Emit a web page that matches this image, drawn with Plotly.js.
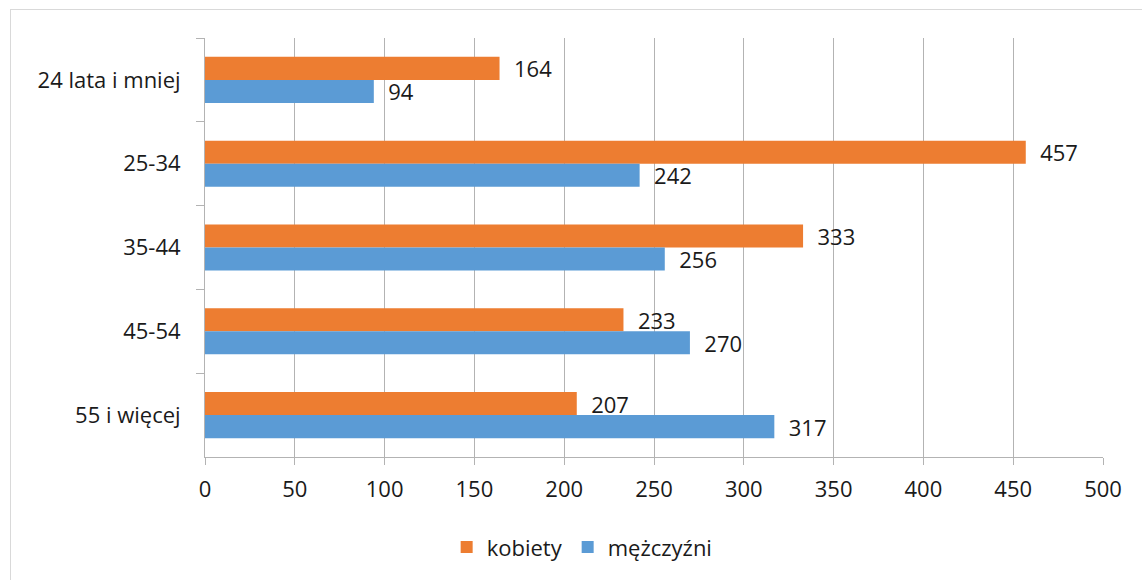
<!DOCTYPE html>
<html><head><meta charset="utf-8">
<script src="https://cdn.plot.ly/plotly-3.0.1.min.js"></script>
<style>html,body{margin:0;padding:0;background:#fff;}#frame{position:absolute;left:10px;top:9px;width:1140px;height:580px;border:1px solid #d9d9d9;box-sizing:border-box;pointer-events:none;}</style>
</head><body>
<div id="chart" style="width:1142px;height:580px;"></div>
<div id="frame"></div>
<script>
const categories = ["24 lata i mniej", "25-34", "35-44", "45-54", "55 i więcej"];
const kobiety = [164, 457, 333, 233, 207];
const mezczyzni = [94, 242, 256, 270, 317];
const seriesNames = ["kobiety", "mężczyźni"];
const xTicks = [0, 50, 100, 150, 200, 250, 300, 350, 400, 450, 500];

const font = {family: "Open Sans, Noto Sans, sans-serif", size: 22, color: "#1a1a1a"};
function bar(vals, name, color) {
  return {
    type: "bar", orientation: "h", name: name, y: categories, x: vals,
    marker: {color: color},
    text: vals.map(v => "\u00a0\u00a0" + v), textposition: "outside",
    textfont: font, constraintext: "none", cliponaxis: false, hoverinfo: "x"
  };
}
const data = [bar(kobiety, seriesNames[0], "#ed7d31"), bar(mezczyzni, seriesNames[1], "#5b9bd5")];
const layout = {
  width: 1142, height: 580,
  margin: {l: 205, r: 39, t: 38, b: 123},
  paper_bgcolor: "#fff", plot_bgcolor: "#fff",
  font: font,
  barmode: "group", bargap: 0.45, bargroupgap: 0,
  showlegend: true,
  legend: {orientation: "h", x: 0.42, xanchor: "center", y: -0.165, yanchor: "top", font: font, itemwidth: 30, traceorder: "normal"},
  xaxis: {range: [0, 500], tickvals: xTicks, ticktext: xTicks.map(String), showgrid: true, gridcolor: "#b3b3b3", gridwidth: 1,
          zeroline: false, showline: true, linecolor: "#b3b3b3", ticks: "outside", ticklen: 7, tickcolor: "#b3b3b3", tickfont: font,
          ticklabelstandoff: 6, fixedrange: true},
  yaxis: {autorange: "reversed", showline: true, linecolor: "#b3b3b3", ticks: "outside", tickson: "boundaries", ticklen: 8, tickcolor: "#b3b3b3",
          showgrid: false, tickfont: font, ticklabelstandoff: 19, fixedrange: true}
};
Plotly.newPlot("chart", data, layout, {displayModeBar: false, staticPlot: true});
</script>
</body></html>
